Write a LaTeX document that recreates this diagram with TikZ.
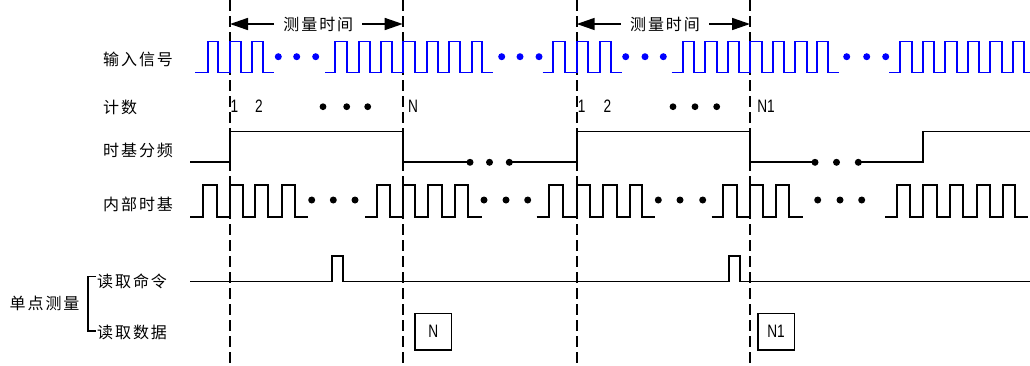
\documentclass[tikz,border=0pt]{standalone}
\usepackage{fontspec}
\newfontfamily\cjk{Noto Sans CJK SC}[LetterSpace=12]
\newfontfamily\narrow{Liberation Sans}[FakeStretch=0.76]
\usetikzlibrary{arrows.meta}
\newcommand\pulses[6]{\draw[#1] (#4,#2) \foreach \ra/\fa in {#5}{ -- (\ra,#2) -- (\ra,#3) -- (\fa,#3) -- (\fa,#2)} -- (#6,#2);}
\begin{document}
\begin{tikzpicture}[x=1pt,y=-1pt,
  sig/.style={line width=1.8pt},
  bsig/.style={sig, blue},
  lbl/.style={font=\cjk\fontsize{16}{16}\selectfont, anchor=west, inner sep=0pt},
  num/.style={font=\narrow\fontsize{18}{18}\selectfont, inner sep=0pt},
  vline/.style={line width=1.8pt, dash pattern=on 11pt off 5pt},
  meas/.style={line width=1.6pt, -{Triangle[length=18pt,width=12pt]}},
  databox/.style={draw, line width=1.5pt, minimum width=36.5pt, minimum height=36.5pt, inner sep=0pt, font=\narrow\fontsize{18}{18}\selectfont}]
\useasboundingbox (0,0) rectangle (1030,365);

% dashed time markers
\foreach \n/\x in {1/230,2/402.7,3/576.7,4/750}{
  \coordinate (t\n) at (\x,0);
  \coordinate (b\n) at (\x,365);
  \draw[vline] (t\n) -- (b\n);
}

% measurement time arrows
\node[lbl, anchor=center, inner xsep=9pt] (m1) at (318.3,24) {测量时间};
\node[lbl, anchor=center, inner xsep=9pt] (m2) at (665,24) {测量时间};
\coordinate (a1) at (230,24);
\coordinate (a2) at (402.7,24);
\coordinate (a3) at (576.7,24);
\coordinate (a4) at (750,24);
\draw[meas] (m1.west) -- (a1);
\draw[meas] (m1.east) -- (a2);
\draw[meas] (m2.west) -- (a3);
\draw[meas] (m2.east) -- (a4);

% row labels
\node[lbl] (l1) at (103,59) {输入信号};
\node[lbl] (l2) at (103,107) {计数};
\node[lbl] (l3) at (103,150.5) {时基分频};
\node[lbl] (l4) at (103,204) {内部时基};
\node[lbl] (l5) at (97,281.7) {读取命令};
\node[lbl] (l6) at (97,332) {读取数据};
\node[lbl] (l7) at (9.5,303.3) {单点测量};
\draw[line width=1.5pt] (96,276.7) -- (88,276.7) -- (88,331) -- (96,331);

% input signal (blue)
\pulses{bsig}{72.5}{41.5}{195}{207.7/217.7,230/241,251.7/262.7}{274}
\pulses{bsig}{72.5}{41.5}{325}{335/346.7,359/370,381/392.3,402.7/415,426.7/437.7,449.3/460,471.7/482.3}{492.7}
\pulses{bsig}{72.5}{41.5}{542.7}{553/565,576.7/588.3,600/611}{621.7}
\pulses{bsig}{72.5}{41.5}{671.7}{682.7/694.3,705/716.7,728.3/739.3,750/761.7,772.7/784,795/806.7,817/828.3}{839}
\pulses{bsig}{72.5}{41.5}{889.3}{900/911.7,922.7/934.3,945/956.7,967.7/979.3,990/1001.7,1012.7/1024}{1030}
\foreach \x in {278.3,296.7,315.7,501.7,520,539,625.7,645,663.3,846.7,866.7,885.7}
  \fill[blue] (\x,56.7) circle (3.5pt);

% count
\node[num] (c1) at (234.5,106.7) {1};
\node[num] (c2) at (259,106.7) {2};
\node[num] (cN) at (413,106.7) {N};
\node[num] (d1) at (581.7,106.7) {1};
\node[num] (d2) at (607.5,106.7) {2};
\node[num] (dN) at (766,106.7) {N1};
\foreach \x in {323,346.7,367.7,673,695,716.7}
  \fill (\x,106.7) circle (3.4pt);

% time base division
\draw[sig] (190,162.3) -- (230,162.3) -- (230,131.5) -- (402.7,131.5) -- (402.7,162.3) -- (470,162.3);
\draw[sig] (509.3,162.3) -- (576.7,162.3) -- (576.7,131.5) -- (750,131.5) -- (750,162.3) -- (815,162.3);
\draw[sig] (858.3,162.3) -- (923.3,162.3) -- (923.3,131.5) -- (1030,131.5);
\foreach \x in {470,489.5,509.3,815,836.5,858.3}
  \fill (\x,162.3) circle (3.5pt);

% internal time base
\pulses{sig}{216.7}{185}{190}{203.3/216.7,230/243.3,255/268.3,281.7/295}{308.3}
\pulses{sig}{216.7}{185}{365}{376.7/390,402.7/415,428.3/441.7,455/468.3}{481.7}
\pulses{sig}{216.7}{185}{536.7}{549.3/563.3,576.7/590,603.3/616.7,630/641.7}{655}
\pulses{sig}{216.7}{185}{711.7}{723.3/736.7,750/762.7,776/789.3}{802.7}
\pulses{sig}{216.7}{185}{885}{896.7/910,923.3/936.7,950/963.3,976.7/990,1003.3/1015}{1028.3}
\foreach \x in {311.7,333.3,355,484,506,527.7,658.3,680,702.7,817.7,840,861.7}
  \fill (\x,200) circle (3.5pt);

% read command
\draw[sig] (190,281.5) -- (331.7,281.5) -- (331.7,255.7) -- (342.7,255.7) -- (342.7,281.5)
  -- (729,281.5) -- (729,255.7) -- (740,255.7) -- (740,281.5) -- (1030,281.5);

% read data
\node[databox] (bN) at (433.3,331.7) {N};
\node[databox] (bN1) at (776,331.7) {N1};
\end{tikzpicture}
\end{document}
